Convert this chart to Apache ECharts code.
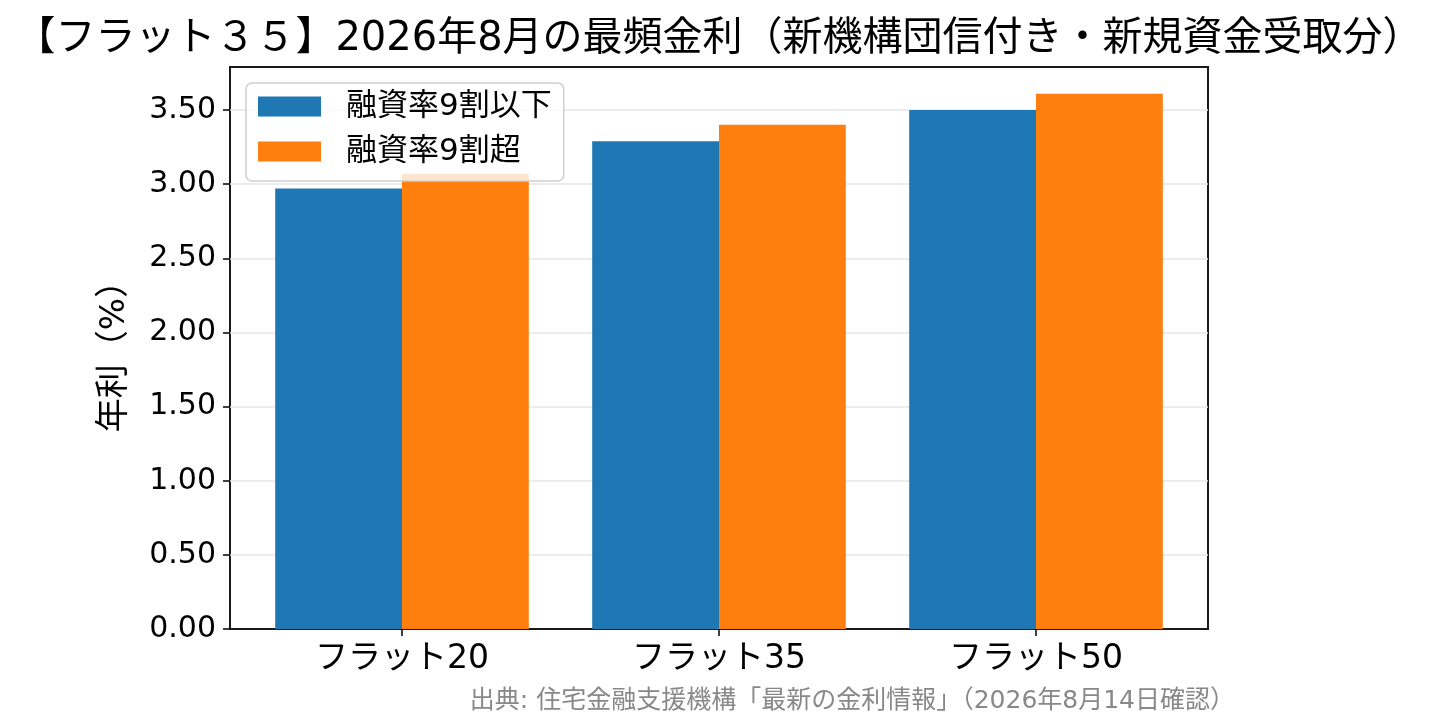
<!DOCTYPE html>
<html>
<head>
<meta charset="utf-8">
<script src="https://cdn.jsdelivr.net/npm/echarts@6/dist/echarts.min.js"></script>
<style>
  html, body { margin: 0; padding: 0; background: #fff; }
  #chart { width: 1438px; height: 725px; }
</style>
</head>
<body>
<div id="chart"></div>
<script>
// データ
var categories = ['フラット20', 'フラット35', 'フラット50'];
var seriesNames = ['融資率9割以下', '融資率9割超'];
var rateLow = [2.97, 3.29, 3.50];
var rateHigh = [3.07, 3.40, 3.61];
var yTicks = [0, 0.5, 1.0, 1.5, 2.0, 2.5, 3.0, 3.5];

var FONT = '"DejaVu Sans", "Noto Sans CJK JP", sans-serif';
var yMax = 3.79;

var chart = echarts.init(document.getElementById('chart'));

var option = {
  backgroundColor: '#fff',
  textStyle: { fontFamily: FONT },
  title: [{
    text: '【フラット３５】2026年8月の最頻金利（新機構団信付き・新規資金受取分）',
    left: 'center',
    top: 15,
    textStyle: { fontFamily: FONT, fontSize: 40, fontWeight: 'normal', color: '#000' }
  }, {
    text: '出典: 住宅金融支援機構「最新の金利情報」（2026年8月14日確認）',
    right: 198,
    top: 684,
    textStyle: { fontFamily: FONT, fontSize: 25, fontWeight: 'normal', color: '#888' }
  }],
  legend: {
    orient: 'vertical',
    left: 246,
    top: 83,
    padding: [8, 12, 14, 12],
    itemWidth: 63,
    itemHeight: 20,
    itemGap: 14,
    icon: 'rect',
    borderColor: '#d0d0d0',
    borderWidth: 1.5,
    borderRadius: 6,
    backgroundColor: 'rgba(255,255,255,0.8)',
    textStyle: { fontFamily: FONT, fontSize: 31, color: '#000', padding: [0, 0, 0, 20] },
    data: seriesNames
  },
  grid: [
    // バー用
    { left: 243.5, right: 243.5, top: 67, bottom: 96 },
    // 枠と目盛り用
    { left: 230, right: 230, top: 67, bottom: 96, show: true, borderColor: '#1a1a1a', borderWidth: 2, backgroundColor: 'transparent' }
  ],
  xAxis: [{
    type: 'category',
    gridIndex: 0,
    data: categories,
    axisLine: { show: false },
    axisTick: { show: true, alignWithLabel: true, length: 7, lineStyle: { color: '#000', width: 1.5 } },
    axisLabel: { fontFamily: FONT, fontSize: 33, color: '#000', margin: 14 }
  }, {
    type: 'value',
    gridIndex: 1,
    show: false
  }],
  yAxis: [{
    type: 'value',
    gridIndex: 0,
    min: 0,
    max: yMax,
    show: false
  }, {
    type: 'value',
    gridIndex: 1,
    min: 0,
    max: yMax,
    interval: 0.5,
    name: '年利（%）',
    nameLocation: 'middle',
    nameRotate: 90,
    nameGap: 98,
    nameTextStyle: { fontFamily: FONT, fontSize: 34, color: '#000' },
    axisLine: { show: false },
    axisTick: { show: true, length: 7, lineStyle: { color: '#000', width: 1.5 } },
    axisLabel: {
      fontFamily: FONT, fontSize: 30, color: '#000', margin: 14,
      showMaxLabel: false,
      formatter: function (v) { return yTicks.indexOf(v) >= 0 ? v.toFixed(2) : ''; }
    },
    splitLine: { show: true, showMinLine: false, showMaxLine: false, lineStyle: { color: '#e6e6e6', width: 1.5 } }
  }],
  series: [{
    name: seriesNames[0],
    type: 'bar',
    xAxisIndex: 0,
    yAxisIndex: 0,
    data: rateLow,
    barWidth: '40%',
    barGap: '0%',
    itemStyle: { color: '#1f77b4' }
  }, {
    name: seriesNames[1],
    type: 'bar',
    xAxisIndex: 0,
    yAxisIndex: 0,
    data: rateHigh,
    barWidth: '40%',
    barGap: '0%',
    itemStyle: { color: '#ff7f0e' }
  }]
};

chart.setOption(option);
</script>
</body>
</html>
